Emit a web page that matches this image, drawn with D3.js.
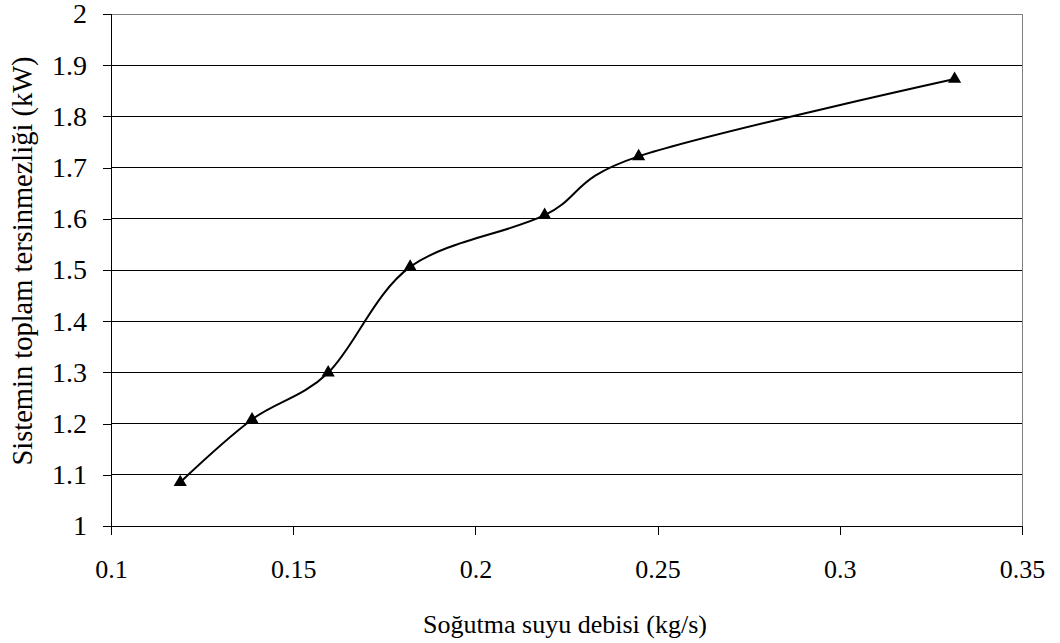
<!DOCTYPE html>
<html><head><meta charset="utf-8">
<script src="https://cdn.jsdelivr.net/npm/d3@7"></script>
<style>body{margin:0;background:#fff}svg text{font-family:"Liberation Serif","Times New Roman",serif;fill:#000}</style>
</head><body><svg id="c" width="1060" height="643"></svg>
<script>
const flowRates = [0.119, 0.1387, 0.1596, 0.1821, 0.219, 0.2448, 0.3315];
const irreversibility = [1.0855, 1.208, 1.2995, 1.506, 1.607, 1.722, 1.873];
const xTicks = [0.1, 0.15, 0.2, 0.25, 0.3, 0.35];
const yTicks = [1, 1.1, 1.2, 1.3, 1.4, 1.5, 1.6, 1.7, 1.8, 1.9, 2];
const xTitle = "Soğutma suyu debisi (kg/s)";
const yTitle = "Sistemin toplam tersinmezliği (kW)";

const svg = d3.select("#c");
const L = 111, R = 1022, T = 14, B = 526;
const x = d3.scaleLinear().domain([0.1, 0.35]).range([L, R]);
const y = d3.scaleLinear().domain([1, 2]).range([B, T]);

svg.append("g").selectAll("line").data(yTicks.slice(1)).join("line")
  .attr("x1", L).attr("x2", R).attr("y1", d => y(d)).attr("y2", d => y(d))
  .attr("stroke", d => d === 2 ? "#808080" : "#000").attr("stroke-width", 1)
  .attr("shape-rendering", "crispEdges");
svg.append("line").attr("x1", R).attr("x2", R).attr("y1", T).attr("y2", B)
  .attr("stroke", "#808080").attr("shape-rendering", "crispEdges");

const fmt = d => String(+d.toFixed(2));
const yAxis = svg.append("g").attr("transform", `translate(${L},0)`)
  .call(d3.axisLeft(y).tickValues(yTicks).tickFormat(fmt).tickSize(8).tickPadding(16));
const xAxis = svg.append("g").attr("transform", `translate(0,${B})`)
  .call(d3.axisBottom(x).tickValues(xTicks).tickFormat(fmt).tickSize(9).tickPadding(25));
[[yAxis, 28], [xAxis, 26]].forEach(([g, fs]) => {
  g.attr("font-size", fs).attr("font-family", '"Liberation Serif",serif');
  g.selectAll("path,line").attr("stroke", "#000").attr("shape-rendering", "crispEdges");
  g.selectAll("text").attr("font-size", fs);
});
yAxis.select(".domain").attr("d", `M0,${B}V${T}`);
xAxis.select(".domain").attr("d", `M${L},0H${R}`);

const pts = flowRates.map((v, i) => [v, irreversibility[i]]);
svg.append("path").datum(pts)
  .attr("d", d3.line().x(d => x(d[0])).y(d => y(d[1])).curve(d3.curveCardinal.tension(0)))
  .attr("fill", "none").attr("stroke", "#000").attr("stroke-width", 2);

svg.append("g").selectAll("path").data(pts).join("path")
  .attr("d", d3.symbol(d3.symbolTriangle, 75))
  .attr("transform", d => `translate(${x(d[0])},${y(d[1])})`)
  .attr("fill", "#000");

svg.append("text").attr("x", 565).attr("y", 633).attr("text-anchor", "middle")
  .attr("font-size", 26).text(xTitle);
svg.append("text").attr("transform", `translate(32,261) rotate(-90)`)
  .attr("text-anchor", "middle").attr("font-size", 28.5).text(yTitle);
</script></body></html>
